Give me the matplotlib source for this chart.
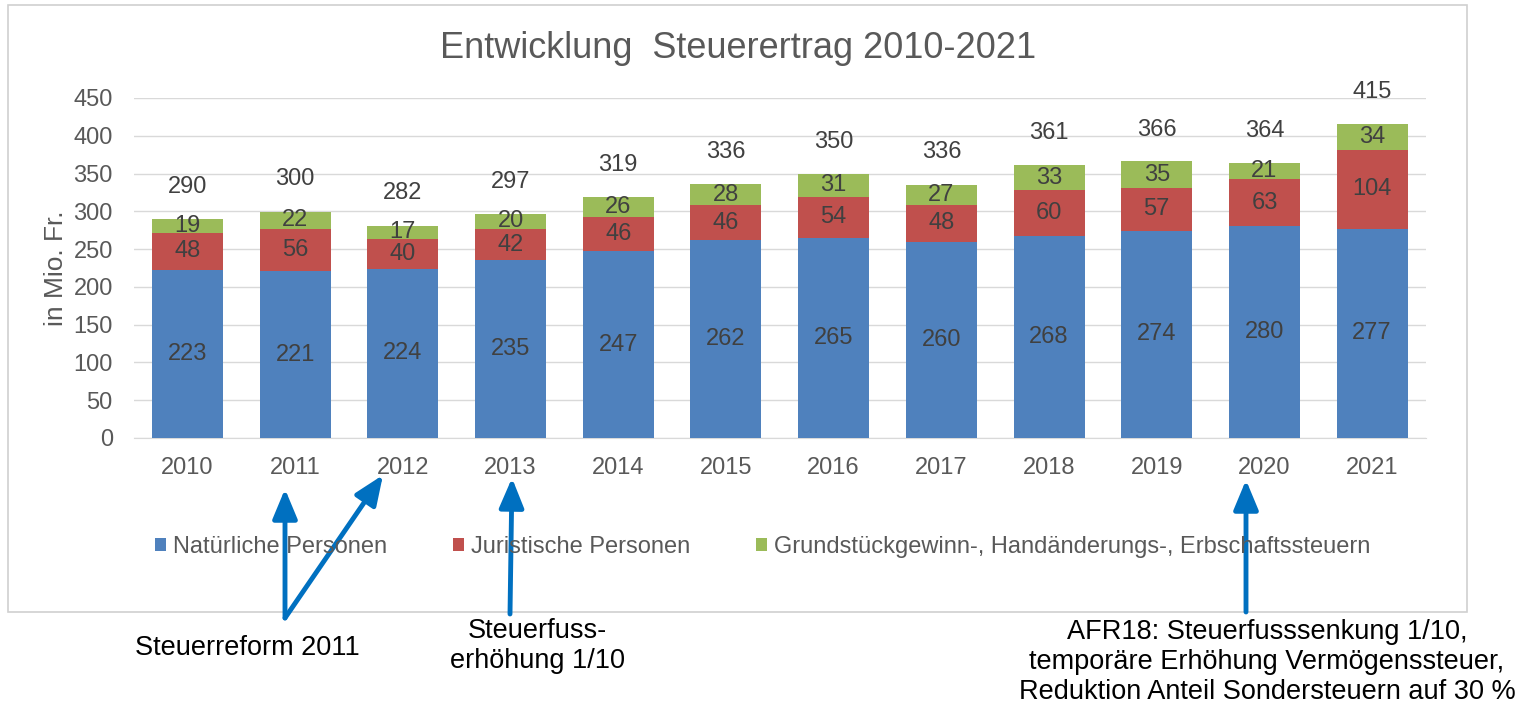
import numpy as np
import matplotlib.pyplot as plt
from matplotlib.patches import Rectangle, FancyArrowPatch

plt.rcParams['font.family'] = ['Liberation Sans', 'DejaVu Sans']

# Daten (Mio. Fr.)
jahre = ['2010', '2011', '2012', '2013', '2014', '2015', '2016', '2017', '2018', '2019', '2020', '2021']
natuerlich = [223, 221, 224, 235, 247, 262, 265, 260, 268, 274, 280, 277]
juristisch = [48, 56, 40, 42, 46, 46, 54, 48, 60, 57, 63, 104]
sonder = [19, 22, 17, 20, 26, 28, 31, 27, 33, 35, 21, 34]
total = [290, 300, 282, 297, 319, 336, 350, 336, 361, 366, 364, 415]

serien = ['Natürliche Personen', 'Juristische Personen',
          'Grundstückgewinn-, Handänderungs-, Erbschaftssteuern']
farben = ['#4F81BD', '#C0504D', '#9BBB59']

W, H = 1522, 705
fig = plt.figure(figsize=(W / 100, H / 100), dpi=100)

# Rahmen um das Diagramm
fig.patches.append(Rectangle((8 / W, 1 - 612 / H), (1467 - 8) / W, (612 - 5) / H,
                             transform=fig.transFigure, fill=False,
                             edgecolor='#D0D0D0', linewidth=1.2))

ax = fig.add_axes([133.6 / W, 1 - 438 / H, (1426 - 133.6) / W, (438 - 98) / H])
x = np.arange(len(jahre))
breite = 0.66

unten = np.zeros(len(jahre))
for werte, farbe, name in zip([natuerlich, juristisch, sonder], farben, serien):
    bars = ax.bar(x, werte, breite, bottom=unten, color=farbe, label=name, zorder=3)
    ax.bar_label(bars, labels=[str(v) for v in werte], label_type='center',
                 fontsize=17, color='#404040')
    unten = unten + np.array(werte)

for xi, t in zip(x, total):
    ax.annotate(str(t), (xi, t), xytext=(0, 23), textcoords='offset points',
                ha='center', va='center', fontsize=17, color='#404040',
                annotation_clip=False)

ax.set_xlim(-0.5, len(jahre) - 0.5)
ax.set_ylim(0, 450)
ax.set_yticks(range(0, 451, 50))
ax.set_xticks(x)
ax.set_xticklabels(jahre)
ax.tick_params(length=0, labelsize=17, labelcolor='#595959')
ax.tick_params(axis='x', pad=14)
ax.tick_params(axis='y', pad=15)
ax.grid(axis='y', color='#D9D9D9', linewidth=1, zorder=0)
for s in ['top', 'right', 'left']:
    ax.spines[s].set_visible(False)
ax.spines['bottom'].set_color('#D9D9D9')
ax.set_ylabel('in Mio. Fr.', fontsize=19, color='#595959', labelpad=4)

fig.text(738 / W, 1 - 48 / H, 'Entwicklung  Steuerertrag 2010-2021',
         ha='center', va='center', fontsize=26, color='#595959')

fig.legend(loc='center', bbox_to_anchor=(763 / W, 1 - 547 / H), ncol=3,
           frameon=False, fontsize=17, labelcolor='#595959',
           handlelength=0.45, handleheight=0.45, handletextpad=0.3,
           columnspacing=2.8)

# Pfeile und Kommentare
def pfeil(x0, y0, x1, y1):
    fig.patches.append(FancyArrowPatch(
        (x0 / W, 1 - y0 / H), (x1 / W, 1 - y1 / H), transform=fig.transFigure,
        arrowstyle='-|>,head_length=1.8,head_width=0.75', mutation_scale=10,
        color='#0070C0', linewidth=3.5, shrinkA=0, shrinkB=0))

pfeil(285, 618, 285, 489)
pfeil(285, 618, 383, 475)
pfeil(510, 614, 512, 478)
pfeil(1246, 612, 1246, 480)

fig.text(247 / W, 1 - 648 / H, 'Steuerreform 2011', ha='center', va='center',
         fontsize=19.5, color='black')
fig.text(537 / W, 1 - 646 / H, 'Steuerfuss-\nerhöhung 1/10', ha='center', va='center',
         fontsize=19.5, color='black')
fig.text(1267 / W, 1 - 662 / H,
         'AFR18: Steuerfusssenkung 1/10,\ntemporäre Erhöhung Vermögenssteuer,\n'
         'Reduktion Anteil Sondersteuern auf 30 %',
         ha='center', va='center', fontsize=19.5, color='black')

fig.savefig('out.png', dpi=100)
